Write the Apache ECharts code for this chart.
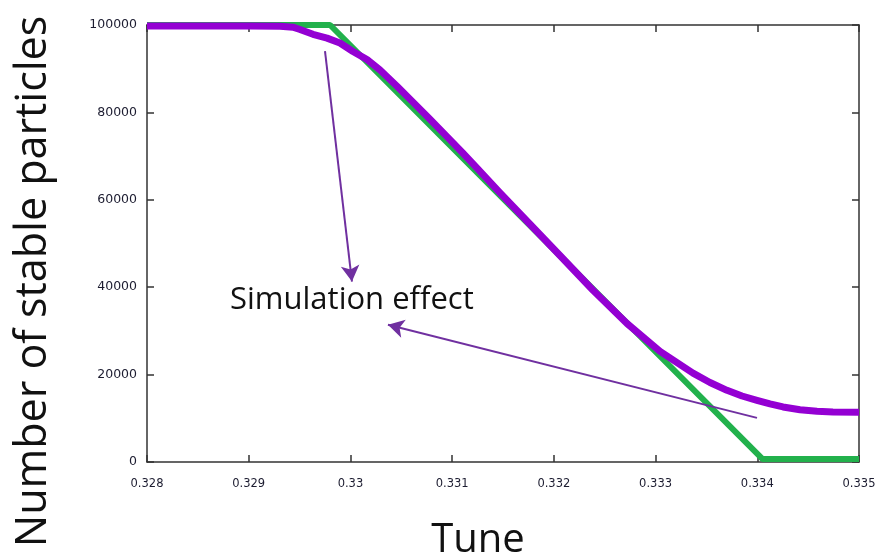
<!DOCTYPE html>
<html>
<head>
<meta charset="utf-8">
<script src="https://cdn.jsdelivr.net/npm/echarts@6/dist/echarts.min.js"></script>
<style>html,body{margin:0;padding:0;background:#fff}#c{width:883px;height:560px}</style>
</head>
<body>
<div id="c"></div>
<script>
// Tune values (x) and stable particle counts (y)
const simTune = [0.328, 0.329013, 0.329308, 0.329435, 0.329504, 0.329632, 0.32977, 0.329897, 0.330025, 0.330163, 0.330291, 0.330458, 0.330615, 0.330782, 0.330949, 0.331107, 0.331254, 0.331471, 0.331766, 0.33206, 0.332385, 0.332719, 0.333044, 0.333368, 0.333535, 0.333702, 0.33385, 0.333997, 0.334125, 0.334253, 0.33442, 0.334587, 0.334744, 0.335];
const simCount = [99750, 99750, 99700, 99500, 98970, 97870, 97000, 95870, 93950, 92100, 89700, 86000, 82350, 78450, 74450, 70650, 67000, 61600, 54400, 47250, 39300, 31700, 25300, 20340, 18200, 16400, 15100, 14100, 13300, 12600, 11950, 11600, 11450, 11400];
const theoryTune = [0.328, 0.32980, 0.33405, 0.335];
const theoryCount = [100000, 100000, 700, 700];
const xTicks = [0.328, 0.329, 0.33, 0.331, 0.332, 0.333, 0.334, 0.335];
const yTicks = [0, 20000, 40000, 60000, 80000, 100000];
// annotation arrows: [fromTune, fromCount, toTune, toCount]
const arrow1 = [0.32975, 94000, 0.330015, 41300];
const arrow2 = [0.333997, 10100, 0.330369, 31400];
const annotText = 'Simulation effect';

const chart = echarts.init(document.getElementById('c'));
const pair = (xs, ys) => xs.map((x, i) => [x, ys[i]]);
const axisLineStyle = { color: '#333', width: 1.5 };
const tickStyle = { show: true, inside: true, length: 7, lineStyle: { color: '#333', width: 1.5 } };
const tickFont = { fontFamily: 'DejaVu Sans', color: '#1c1c30' };

chart.setOption({
  animation: false,
  grid: { left: 147, right: 24, top: 25, bottom: 98, containLabel: false, outerBoundsMode: 'none' },
  xAxis: [{
    type: 'value', min: 0.328, max: 0.335, interval: 0.001,
    axisLine: { show: true, onZero: false, lineStyle: axisLineStyle },
    axisTick: tickStyle,
    splitLine: { show: false },
    axisLabel: { ...tickFont, fontSize: 11.5, margin: 16,
      formatter: v => { const r = parseFloat(v.toFixed(3)); return xTicks.includes(r) ? String(r) : ''; } },
    name: 'Tune', nameLocation: 'middle', nameGap: 59,
    nameTextStyle: { fontFamily: 'Open Sans', fontSize: 40, color: '#111', padding: [0, 50, 0, 0] }
  }, {
    type: 'value', position: 'top', min: 0.328, max: 0.335, interval: 0.001,
    axisLine: { show: true, onZero: false, lineStyle: axisLineStyle },
    axisTick: tickStyle,
    axisLabel: { show: false }, splitLine: { show: false }
  }],
  yAxis: [{
    type: 'value', min: 0, max: 100000, interval: 20000,
    axisLine: { show: true, onZero: false, lineStyle: axisLineStyle },
    axisTick: tickStyle,
    splitLine: { show: false },
    axisLabel: { ...tickFont, fontSize: 12.5, margin: 10, formatter: v => yTicks.includes(v) ? String(v) : '' },
    name: 'Number of stable particles', nameLocation: 'middle', nameGap: 92, nameRotate: 90,
    nameTextStyle: { fontFamily: 'Open Sans', fontSize: 43, color: '#111', padding: [0, 76, 0, 0] }
  }, {
    type: 'value', position: 'right', min: 0, max: 100000, interval: 20000,
    axisLine: { show: true, onZero: false, lineStyle: axisLineStyle },
    axisTick: tickStyle,
    axisLabel: { show: false }, splitLine: { show: false }
  }],
  series: [{
    type: 'line', data: pair(theoryTune, theoryCount), showSymbol: false, symbol: 'none',
    lineStyle: { color: '#22b14c', width: 6 }, z: 2
  }, {
    type: 'line', data: pair(simTune, simCount), showSymbol: false, symbol: 'none',
    lineStyle: { color: '#9400d3', width: 7, join: 'round' }, z: 3,
    markLine: {
      silent: true, symbol: ['none', 'arrow'], symbolSize: [14, 16],
      lineStyle: { color: '#7030a0', width: 2, type: 'solid' },
      label: { show: false },
      data: [
        [{ coord: [arrow1[0], arrow1[1]] }, { coord: [arrow1[2], arrow1[3]] }],
        [{ coord: [arrow2[0], arrow2[1]] }, { coord: [arrow2[2], arrow2[3]] }]
      ]
    }
  }],
  graphic: [{
    type: 'text', left: 230, top: 285,
    style: { text: annotText, font: '31px "Open Sans"', fill: '#111' }
  }]
});
</script>
</body>
</html>
